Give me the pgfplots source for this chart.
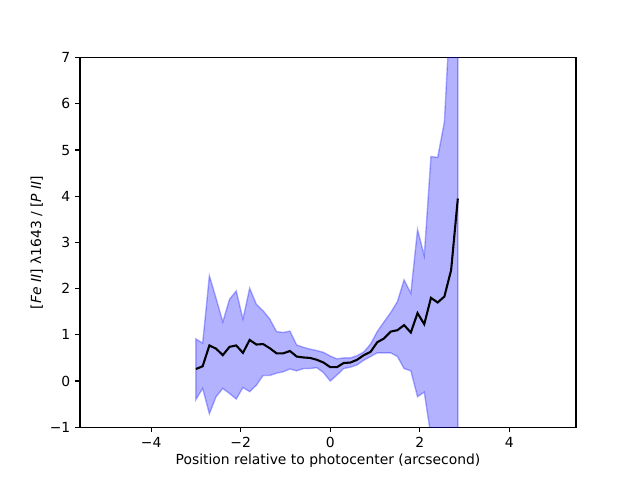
\documentclass[border=0pt]{standalone}
\usepackage{fontspec}
\setmainfont{DejaVu Sans}
\usepackage{pgfplots}
\usepackage{pgfplotstable}
\pgfplotsset{compat=1.18}
\usepgfplotslibrary{fillbetween}
\pgfplotstableread{
x mid up lo
-3.00 0.26 0.91 -0.40
-2.85 0.32 0.82 -0.16
-2.70 0.77 2.28 -0.71
-2.55 0.70 1.79 -0.34
-2.40 0.56 1.28 -0.16
-2.25 0.74 1.77 -0.27
-2.10 0.77 1.95 -0.39
-1.95 0.61 1.34 -0.14
-1.80 0.89 2.01 -0.23
-1.65 0.79 1.66 -0.09
-1.50 0.80 1.52 0.12
-1.35 0.71 1.34 0.12
-1.20 0.60 1.07 0.17
-1.05 0.60 1.05 0.20
-0.90 0.65 1.08 0.26
-0.75 0.53 0.78 0.22
-0.60 0.51 0.73 0.27
-0.45 0.50 0.69 0.27
-0.30 0.46 0.66 0.29
-0.15 0.40 0.62 0.18
0.00 0.30 0.54 0.00
0.15 0.30 0.48 0.13
0.30 0.39 0.50 0.27
0.45 0.40 0.50 0.30
0.60 0.46 0.55 0.35
0.75 0.56 0.63 0.45
0.90 0.63 0.80 0.53
1.05 0.84 1.07 0.61
1.20 0.92 1.28 0.61
1.35 1.07 1.48 0.61
1.50 1.10 1.72 0.53
1.65 1.21 2.19 0.27
1.80 1.05 1.90 0.22
1.95 1.47 3.28 -0.34
2.10 1.23 2.71 -0.24
2.25 1.80 4.86 -1.20
2.40 1.70 4.84 -2.00
2.55 1.83 5.61 -2.50
2.70 2.40 8.40 -3.50
2.85 3.95 12.00 -5.00
}\datatable
\begin{document}
\begin{tikzpicture}
\begin{axis}[
  at={(0,0)}, anchor=south west,
  scale only axis,
  width=357.12pt, height=266.1pt,
  xmin=-5.59, xmax=5.49,
  ymin=-1, ymax=7,
  xtick={-4,-2,0,2,4},
  xticklabels={−4,−2,0,2,4},
  ytick={-1,0,1,2,3,4,5,6,7},
  yticklabels={−1,0,1,2,3,4,5,6,7},
  tick align=outside,
  tick pos=left,
  major tick length=3.5pt,
  every tick/.style={black, line width=0.8pt},
  axis line style={line width=0.8pt},
  tick label style={font=\fontsize{10}{12}\selectfont},
  label style={font=\fontsize{10}{12}\selectfont},
  xlabel={Position relative to photocenter (arcsecond)},
  ylabel={[\textit{Fe II}] λ1643 / [\textit{P II}]},
  xlabel style={yshift=2pt},
  ylabel style={yshift=-2pt},
  clip=true,
]
\addplot[name path=up, draw=none, forget plot] table[x=x, y=up] {\datatable};
\addplot[name path=lo, draw=none, forget plot] table[x=x, y=lo] {\datatable};
\addplot[fill=blue, fill opacity=0.3, draw=blue, draw opacity=0.3, line width=1pt] fill between[of=up and lo];
\addplot[black, line width=1.5pt, mark=none] table[x=x, y=mid] {\datatable};
\end{axis}
\path (-57.6pt,-38pt) rectangle (403.2pt,307.6pt);
\end{tikzpicture}
\end{document}
